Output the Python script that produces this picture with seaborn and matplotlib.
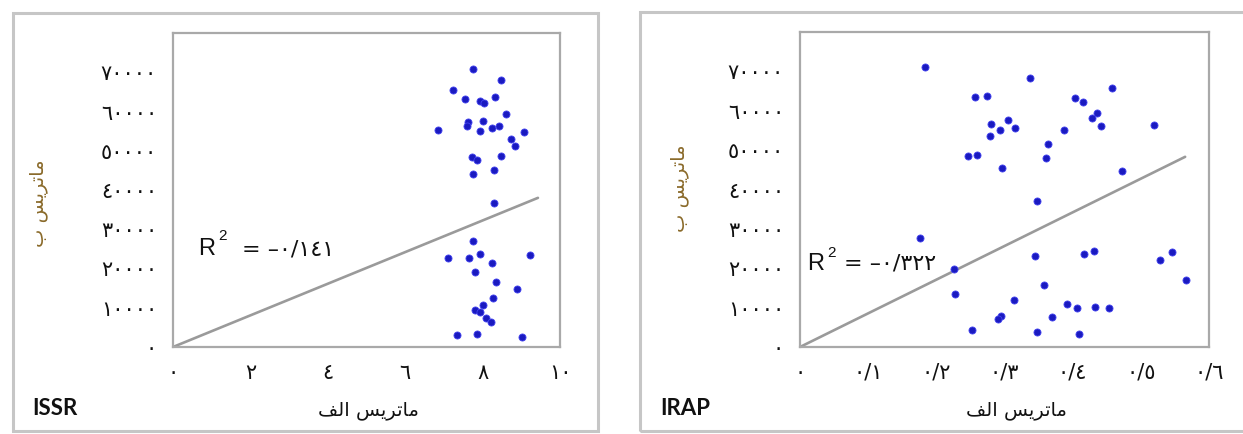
import numpy as np
import pandas as pd
import matplotlib
matplotlib.use("Agg")
import matplotlib.pyplot as plt
import seaborn as sns
from matplotlib.patches import Rectangle

# ---------------- data ----------------
issr_x = [7.76, 8.47, 7.24, 7.55, 7.93, 8.04, 8.32, 8.60, 7.63, 7.59, 8.02, 7.92,
          8.23, 8.43, 6.86, 9.07, 8.73, 8.84, 7.72, 7.86, 8.47, 7.76, 8.29, 8.29,
          7.76, 7.11, 7.66, 7.93, 9.22, 8.23, 7.80, 8.35, 8.88, 8.26, 8.02, 7.80,
          7.93, 8.10, 8.21, 7.33, 7.86, 9.01]
issr_y = [70900, 68100, 65400, 63300, 62800, 62200, 63700, 59300, 57300, 56200, 57600, 55000,
          55900, 56200, 55200, 54900, 53100, 51100, 48400, 47600, 48600, 44200, 45000, 36700,
          27000, 22800, 22800, 23800, 23400, 21500, 19200, 16500, 14900, 12600, 10700, 9400,
          9000, 7300, 6400, 3100, 3300, 2500]

irap_x = [0.183, 0.337, 0.457, 0.256, 0.275, 0.403, 0.415, 0.435, 0.428, 0.442, 0.519, 0.280,
          0.305, 0.294, 0.315, 0.278, 0.388, 0.364, 0.246, 0.260, 0.361, 0.296, 0.472, 0.348,
          0.176, 0.345, 0.417, 0.432, 0.528, 0.546, 0.226, 0.566, 0.358, 0.227, 0.314, 0.391,
          0.406, 0.433, 0.453, 0.295, 0.290, 0.370, 0.252, 0.348, 0.410]
irap_y = [71000, 68300, 65700, 63500, 63800, 63200, 62200, 59400, 58200, 56100, 56500, 56600,
          57700, 55200, 55600, 53500, 55200, 51600, 48500, 48700, 48100, 45500, 44700, 37100,
          27700, 23200, 23500, 24300, 22000, 24100, 19800, 17100, 15700, 13400, 12000, 11000,
          10000, 10200, 9800, 7800, 7200, 7600, 4300, 3900, 3300]

issr_trend_x = [0, 9.43]
issr_trend_y = [0, 38000]
irap_trend_x = [0, 0.565]
irap_trend_y = [0, 48300]

y_ticks = [0, 10000, 20000, 30000, 40000, 50000, 60000, 70000]
y_tick_labels = ["٠", "١٠٠٠٠", "٢٠٠٠٠", "٣٠٠٠٠", "٤٠٠٠٠", "٥٠٠٠٠", "٦٠٠٠٠", "٧٠٠٠٠"]
issr_x_ticks = [0, 2, 4, 6, 8, 10]
issr_x_tick_labels = ["٠", "٢", "٤", "٦", "٨", "١٠"]
irap_x_ticks = [0, 0.1, 0.2, 0.3, 0.4, 0.5, 0.6]
irap_x_tick_labels = ["٠", "٠/١", "٠/٢", "٠/٣", "٠/٤", "٠/٥", "٠/٦"]

# Arabic labels (shaped presentation forms in visual order, since matplotlib does not shape Arabic)
x_label = "\uFED2\uFEDF\uFE8D \uFEB2\uFEF3\uFEAE\uFE97\uFE8E\uFEE3"   # ماتریس الف
y_label = "\uFE8F \uFEB2\uFEF3\uFEAE\uFE97\uFE8E\uFEE3"               # ماتریس ب
issr_r2 = "= –٠/١٤١"
irap_r2 = "= –٠/٣٢٢"

# ---------------- style ----------------
sns.set_theme(style="white")
plt.rcParams["font.family"] = ["DejaVu Sans"]

W, H = 1243, 434
fig = plt.figure(figsize=(W / 100, H / 100), dpi=100)
fig.patch.set_facecolor("white")

frame_col = "#c6c6c6"
spine_col = "#a9a9a9"

# panel frames
fig.add_artist(Rectangle((13 / W, 1 - 431 / H), (598 - 13) / W, (431 - 13) / H,
                         transform=fig.transFigure, fill=False, edgecolor=frame_col, linewidth=2.2))
fig.add_artist(Rectangle((640 / W, 1 - 431 / H), (1260 - 640) / W, (431 - 12) / H,
                         transform=fig.transFigure, fill=False, edgecolor=frame_col, linewidth=2.2))

ax1 = fig.add_axes([173 / W, 1 - 347 / H, (560 - 173) / W, (347 - 33) / H])
ax2 = fig.add_axes([800 / W, 1 - 347 / H, (1209 - 800) / W, (347 - 32) / H])

panels = [
    (ax1, issr_x, issr_y, issr_trend_x, issr_trend_y, (0, 10), issr_x_ticks, issr_x_tick_labels,
     "ISSR", issr_r2, (0.65, 23400), (1.16, 27300), (1.78, 23400), (-0.323, 0.459), (0.504, -0.172), 32),
    (ax2, irap_x, irap_y, irap_trend_x, irap_trend_y, (0, 0.6), irap_x_ticks, irap_x_tick_labels,
     "IRAP", irap_r2, (0.0105, 19600), (0.040, 22800), (0.064, 19600), (-0.271, 0.505), (0.53, -0.172), 660),
]

for (ax, xs, ys, tx, ty, xlim, xt, xtl, tag, r2, rpos, spos, epos, ylc, xlc, tagx) in panels:
    df = pd.DataFrame({"x": xs, "y": ys})
    tdf = pd.DataFrame({"x": tx, "y": ty})
    sns.lineplot(data=tdf, x="x", y="y", ax=ax, color="#9a9a9a", linewidth=1.9, zorder=2)
    sns.scatterplot(data=df, x="x", y="y", ax=ax, color="#1a1ac0", edgecolor="#4444f0",
                    linewidth=0.6, s=26, zorder=3)
    ax.set_xlim(*xlim)
    ax.set_ylim(0, 80000)
    ax.set_xticks(xt)
    ax.set_xticklabels(xtl, fontsize=15)
    ax.set_yticks(y_ticks)
    ax.set_yticklabels(y_tick_labels, fontsize=15)
    ax.tick_params(axis="both", direction="inout", length=7, width=1.4, color=spine_col,
                   labelcolor="#111111")
    ax.tick_params(axis="y", pad=8)
    ax.tick_params(axis="x", pad=8)
    for sp in ax.spines.values():
        sp.set_color(spine_col)
        sp.set_linewidth(1.6)
    ax.set_facecolor("white")
    ax.set_xlabel(x_label, fontsize=14, color="#111111")
    ax.xaxis.set_label_coords(*xlc)
    ax.set_ylabel(y_label, fontsize=14, color="#8a6a2a")
    ax.yaxis.set_label_coords(*ylc)
    ax.text(rpos[0], rpos[1], "R", fontsize=17, family="Liberation Sans", color="#111111",
            ha="left", va="baseline")
    ax.text(spos[0], spos[1], "2", fontsize=11, family="Liberation Sans", color="#111111",
            ha="left", va="baseline")
    ax.text(epos[0], epos[1], r2, fontsize=16, color="#111111", ha="left", va="baseline")
    fig.text(tagx / W, 1 - 415 / H, tag, fontsize=16, fontweight="bold", family="Lato",
             color="#111111", ha="left", va="baseline")

fig.savefig("out.png", dpi=100, facecolor="white")
